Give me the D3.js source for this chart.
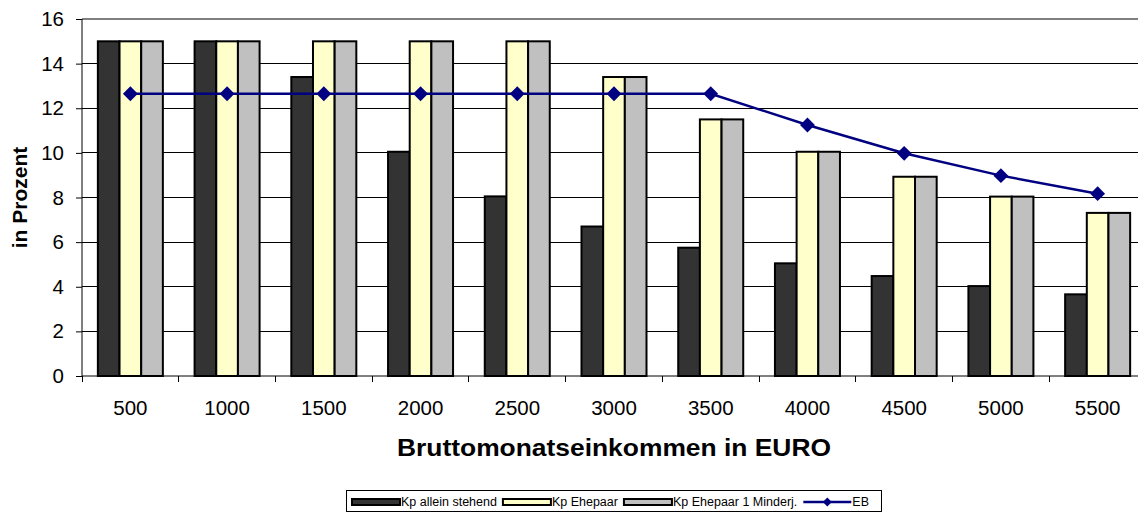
<!DOCTYPE html>
<html>
<head>
<meta charset="utf-8">
<script src="https://cdn.jsdelivr.net/npm/d3@7"></script>
<style>
  html, body { margin: 0; padding: 0; background: #fff; }
  svg { display: block; font-family: "Liberation Sans", Arial, sans-serif; }
</style>
</head>
<body>
<div id="chart"></div>
<script>
// ── Data ──
const categories = ['500', '1000', '1500', '2000', '2500', '3000', '3500', '4000', '4500', '5000', '5500'];
const kpAllein   = [15, 15, 13.4, 10.05, 8.05, 6.7, 5.75, 5.05, 4.48, 4.03, 3.66];
const kpEhepaar  = [15, 15, 15, 15, 15, 13.4, 11.5, 10.05, 8.93, 8.04, 7.31];
const kpMinderj  = [15, 15, 15, 15, 15, 13.4, 11.5, 10.05, 8.93, 8.04, 7.31];
const eb         = [12.65, 12.65, 12.65, 12.65, 12.65, 12.65, 12.65, 11.25, 9.98, 8.98, 8.17];
const yTicks     = [0, 2, 4, 6, 8, 10, 12, 14, 16];

const barSeries = [
  { name: 'Kp allein stehend',     values: kpAllein,  color: '#333333' },
  { name: 'Kp Ehepaar',            values: kpEhepaar, color: '#FFFFCC' },
  { name: 'Kp Ehepaar 1 Minderj.', values: kpMinderj, color: '#C0C0C0' }
];
const lineColor = '#000080';

const W = 1138, H = 513;
const margin = { top: 19, left: 82 };
const width  = 1064;
const height = 357;

const svg = d3.select('#chart').append('svg')
  .attr('width', W)
  .attr('height', H);

const g = svg.append('g')
  .attr('transform', `translate(${margin.left},${margin.top})`);

const x = d3.scaleBand().domain(categories).range([0, width]).padding(0);
const groupW = x.bandwidth() * 0.672;
const x1 = d3.scaleBand().domain(barSeries.map(s => s.name)).range([0, groupW]);
const y = d3.scaleLinear().domain([0, 16]).range([height, 0]);

// Grid
g.append('g')
  .selectAll('line')
  .data(yTicks.filter(t => t > 0 && t < 16))
  .enter().append('line')
  .attr('x1', 0).attr('x2', width)
  .attr('y1', d => y(d)).attr('y2', d => y(d))
  .attr('stroke', '#000')
  .attr('stroke-width', 1)
  .attr('shape-rendering', 'crispEdges');

// top border (plot area frame)
g.append('line')
  .attr('x1', 0).attr('x2', width)
  .attr('y1', y(16)).attr('y2', y(16))
  .attr('stroke', '#808080')
  .attr('stroke-width', 2);

// Bars
barSeries.forEach(s => {
  g.append('g').selectAll('rect')
    .data(s.values.map((v, i) => ({ cat: categories[i], value: v })))
    .enter().append('rect')
    .attr('x', d => x(d.cat) + (x.bandwidth() - groupW) / 2 + x1(s.name))
    .attr('y', d => y(d.value))
    .attr('width', x1.bandwidth())
    .attr('height', d => y(0) - y(d.value))
    .attr('fill', s.color)
    .attr('stroke', '#000')
    .attr('stroke-width', 2);
});

// Axes
const yAxis = g.append('g')
  .call(d3.axisLeft(y).tickValues(yTicks).tickSize(6).tickPadding(12));
yAxis.select('.domain').attr('stroke', '#000').attr('d', `M0,0V${height}`);
yAxis.selectAll('text')
  .attr('fill', '#000')
  .style('font-size', '20.5px')
  .style('font-family', '"Liberation Sans", Arial, sans-serif');

const xAxis = g.append('g')
  .attr('transform', `translate(0,${height})`)
  .call(d3.axisBottom(x).tickSize(0).tickPadding(24));
xAxis.select('.domain').attr('stroke', '#000').attr('d', `M0,0H${width}`);
xAxis.selectAll('text')
  .attr('fill', '#000')
  .style('font-size', '20.5px')
  .style('font-family', '"Liberation Sans", Arial, sans-serif');

// category boundary ticks
g.append('g').selectAll('line')
  .data(categories.map(c => x(c)).concat([width]))
  .enter().append('line')
  .attr('x1', d => d).attr('x2', d => d)
  .attr('y1', height).attr('y2', height + 6)
  .attr('stroke', '#000')
  .attr('shape-rendering', 'crispEdges');

// EB line
const line = d3.line()
  .x((d, i) => x(categories[i]) + x.bandwidth() / 2)
  .y(d => y(d));

g.append('path')
  .datum(eb)
  .attr('fill', 'none')
  .attr('stroke', lineColor)
  .attr('stroke-width', 2.5)
  .attr('d', line);

const diamond = d3.symbol().type(d3.symbolSquare).size(110);
g.append('g').selectAll('path')
  .data(eb)
  .enter().append('path')
  .attr('d', diamond)
  .attr('transform', (d, i) => `translate(${x(categories[i]) + x.bandwidth() / 2},${y(d)}) rotate(45)`)
  .attr('fill', lineColor);

// Axis titles
svg.append('text')
  .attr('transform', `translate(27,${margin.top + height / 2}) rotate(-90)`)
  .attr('text-anchor', 'middle')
  .style('font-size', '21px')
  .style('font-weight', 'bold')
  .text('in Prozent');

svg.append('text')
  .attr('x', margin.left + width / 2)
  .attr('y', 456)
  .attr('text-anchor', 'middle')
  .attr('textLength', 434)
  .attr('lengthAdjust', 'spacingAndGlyphs')
  .style('font-size', '24px')
  .style('font-weight', 'bold')
  .text('Bruttomonatseinkommen in EURO');

// ── Legend ──
const legend = svg.append('g');
legend.append('rect')
  .attr('x', 346.5).attr('y', 490.5)
  .attr('width', 535).attr('height', 21)
  .attr('fill', '#fff')
  .attr('stroke', '#000')
  .attr('stroke-width', 1);

const legendItems = barSeries.map(s => ({ name: s.name, color: s.color, type: 'bar' }))
  .concat([{ name: 'EB', color: lineColor, type: 'line' }]);

let lx = 352;
const ly = 502;
legendItems.forEach(item => {
  if (item.type === 'bar') {
    legend.append('rect')
      .attr('x', lx).attr('y', ly - 3)
      .attr('width', 48).attr('height', 6)
      .attr('fill', item.color)
      .attr('stroke', '#000')
      .attr('stroke-width', 2);
  } else {
    legend.append('line')
      .attr('x1', lx).attr('x2', lx + 48)
      .attr('y1', ly).attr('y2', ly)
      .attr('stroke', item.color)
      .attr('stroke-width', 2.5);
    legend.append('path')
      .attr('d', d3.symbol().type(d3.symbolSquare).size(40))
      .attr('transform', `translate(${lx + 24},${ly}) rotate(45)`)
      .attr('fill', item.color);
  }
  const t = legend.append('text')
    .attr('x', lx + 49)
    .attr('y', ly)
    .attr('dy', '0.35em')
    .style('font-size', '12.5px')
    .text(item.name);
  lx += 49 + t.node().getComputedTextLength() + 6;
});
</script>
</body>
</html>
